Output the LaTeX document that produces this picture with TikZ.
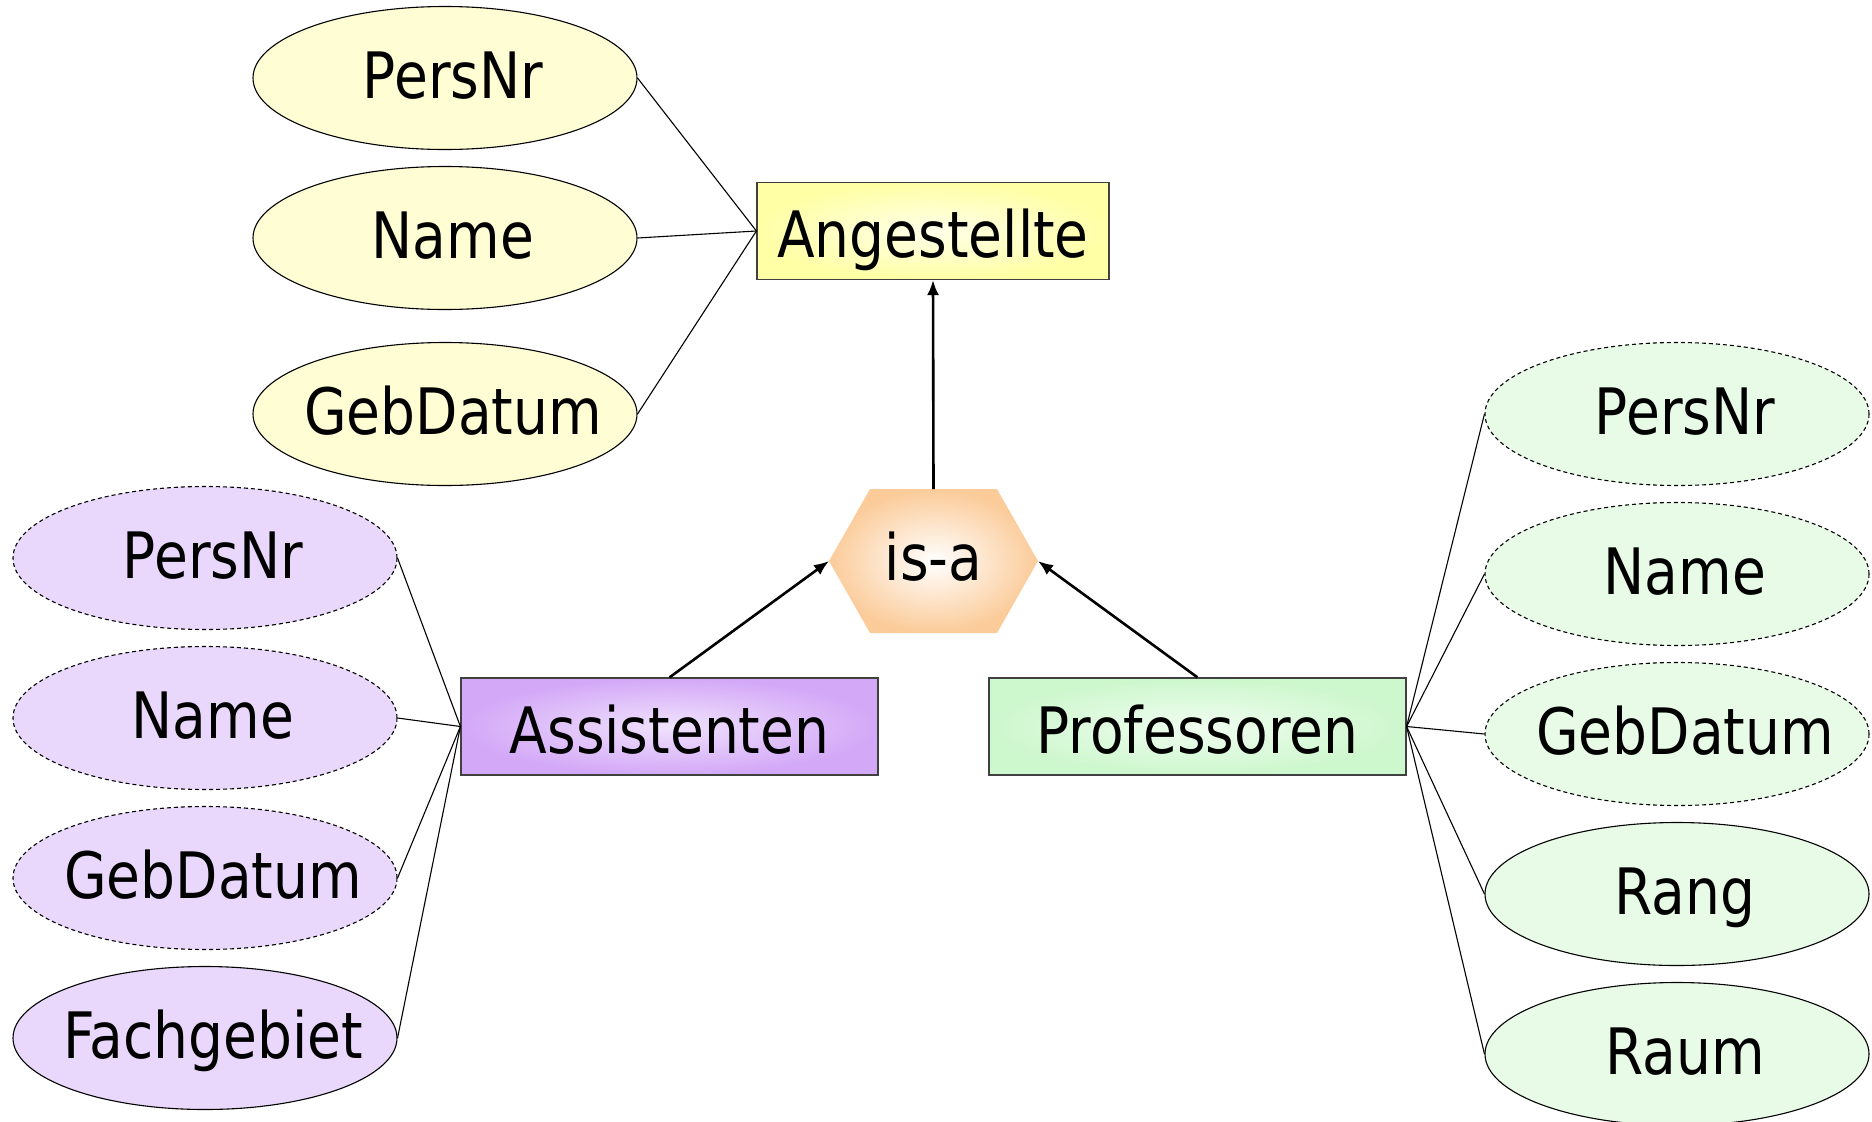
\documentclass[tikz,border=0pt]{standalone}
\usepackage{fontspec}
\setmainfont[FakeStretch=0.86]{DejaVu Sans}
\usetikzlibrary{shapes.geometric,arrows.meta}
\definecolor{yel}{HTML}{FFFDD4}
\definecolor{yelbox}{HTML}{FFFFA6}
\definecolor{yelin}{HTML}{FFFFEA}
\definecolor{pur}{HTML}{EAD8FC}
\definecolor{purbox}{HTML}{D3A8F7}
\definecolor{purin}{HTML}{F0E2FD}
\definecolor{grn}{HTML}{E7FBE7}
\definecolor{grnbox}{HTML}{CDF7CD}
\definecolor{grnin}{HTML}{F0FDF0}
\definecolor{isac}{HTML}{FBCB99}
\definecolor{boxline}{HTML}{404040}
\newcommand{\attrtext}[1]{\makebox[0pt]{\hspace*{16pt}#1}}
\begin{document}
\begin{tikzpicture}[x=1pt,y=-1pt,
  lbl/.style={font=\fontsize{64}{72}\selectfont},
  attr/.style={ellipse,draw=black,line width=1.1pt,minimum width=384pt,minimum height=143pt,inner sep=0pt,lbl,text height=41pt,text depth=0pt},
  dattr/.style={attr,dash pattern=on 4pt off 3pt},
  entity/.style={rectangle,draw=boxline,line width=1.2pt,minimum height=97pt,inner sep=0pt,lbl,text height=53pt,text depth=0pt},
  conn/.style={line width=1.1pt},
  arr/.style={line width=2.6pt,-{Latex[length=15pt,width=12pt]}}
]
\useasboundingbox (0,0) rectangle (1872,1122);

% Entities
\node[entity,minimum width=352pt,shading=radial,inner color=yelin,outer color=yelbox] (ang) at (933,231) {Angestellte};
\node[entity,minimum width=417pt,shading=radial,inner color=purin,outer color=purbox] (ass) at (669.5,726.5) {Assistenten};
\node[entity,minimum width=417pt,shading=radial,inner color=grnin,outer color=grnbox] (prof) at (1197.5,726.5) {Professoren};

% is-a hexagon
\coordinate (isaL) at (829,561);
\coordinate (isaTL) at (870,489);
\coordinate (isaTR) at (997,489);
\coordinate (isaR) at (1038,561);
\coordinate (isaBR) at (997,633);
\coordinate (isaBL) at (870,633);
\coordinate (isaT) at (933.5,489);
\path[shading=radial,inner color=white,outer color=isac]
  (isaL) -- (isaTL) -- (isaTR) -- (isaR) -- (isaBR) -- (isaBL) -- cycle;
\node[lbl,inner sep=0pt,text height=38pt,text depth=0pt] (isa) at (933.5,561) {is-a};

% Angestellte attributes
\node[attr,fill=yel] (aP) at (445,78) {\attrtext{PersNr}};
\node[attr,fill=yel] (aN) at (445,238) {\attrtext{Name}};
\node[attr,fill=yel] (aG) at (445,414) {\attrtext{GebDatum}};

% Assistenten attributes
\node[dattr,fill=pur] (sP) at (205,558) {\attrtext{PersNr}};
\node[dattr,fill=pur] (sN) at (205,718) {\attrtext{Name}};
\node[dattr,fill=pur] (sG) at (205,878) {\attrtext{GebDatum}};
\node[attr,fill=pur] (sF) at (205,1038) {\attrtext{Fachgebiet}};

% Professoren attributes
\node[dattr,fill=grn] (pP) at (1677,414) {\attrtext{PersNr}};
\node[dattr,fill=grn] (pN) at (1677,574) {\attrtext{Name}};
\node[dattr,fill=grn] (pG) at (1677,734) {\attrtext{GebDatum}};
\node[attr,fill=grn] (pR) at (1677,894) {\attrtext{Rang}};
\node[attr,fill=grn] (pM) at (1677,1054) {\attrtext{Raum}};

% attribute connectors
\foreach \a in {aP,aN,aG} \draw[conn] (\a.east) -- (ang.west);
\foreach \a in {sP,sN,sG,sF} \draw[conn] (\a.east) -- (ass.west);
\foreach \a in {pP,pN,pG,pR,pM} \draw[conn] (\a.west) -- (prof.east);

% is-a arrows
\draw[arr] (isaT) -- (ang.south);
\draw[arr] (ass.north) -- (isaL);
\draw[arr] (prof.north) -- (isaR);
\end{tikzpicture}
\end{document}
